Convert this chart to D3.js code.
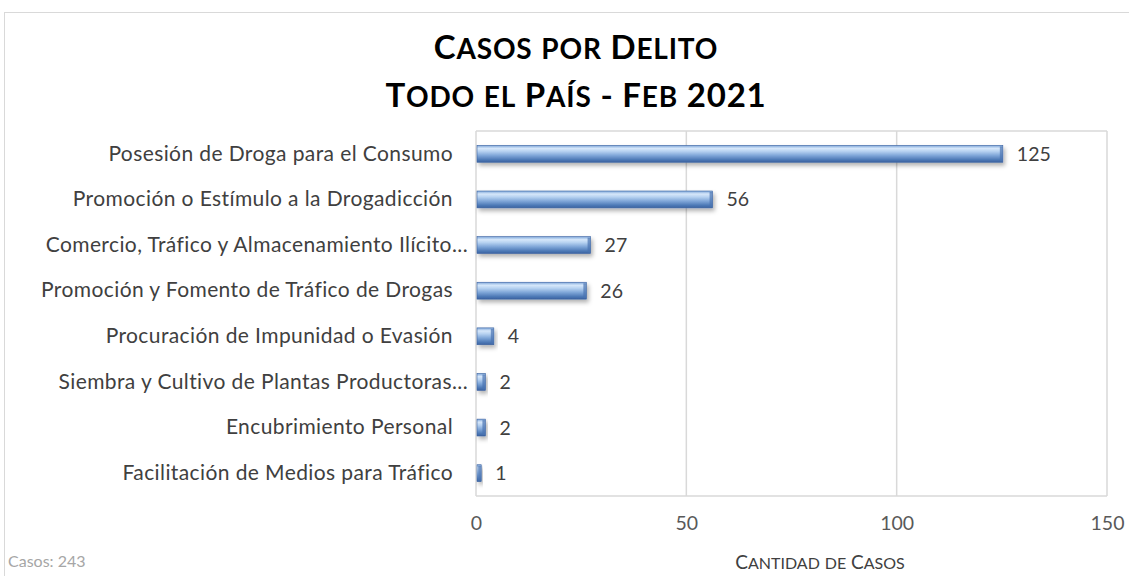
<!DOCTYPE html>
<html><head><meta charset="utf-8">
<script src="https://cdn.jsdelivr.net/npm/d3@7"></script>
<style>body{margin:0;background:#fff}svg{display:block}</style>
</head><body><svg id="c" width="1129" height="576"></svg>
<script>
const categories = ["Posesión de Droga para el Consumo","Promoción o Estímulo a la Drogadicción","Comercio, Tráfico y Almacenamiento Ilícito...","Promoción y Fomento de Tráfico de Drogas","Procuración de Impunidad o Evasión","Siembra y Cultivo de Plantas Productoras...","Encubrimiento Personal","Facilitación de Medios para Tráfico"];
const values = [125,56,27,26,4,2,2,1];
const ticks = [0,50,100,150];
const titleLines = ["Casos por Delito","Todo el País - Feb 2021"];
const xTitle = "Cantidad de Casos";
const note = "Casos: 243";

const svg = d3.select("#c");
const font = "Lato, 'Open Sans', sans-serif";
const m = {l:476, r:1107, t:131, b:496};
const x = d3.scaleLinear().domain([0,150]).range([m.l,m.r]);
const y = d3.scaleBand().domain(categories).range([m.t,m.b]).paddingInner(0.63).paddingOuter(0.315);

// manual small caps: uppercase at big size, lowercase uppercased at small size
function smallCaps(sel, text, big, small) {
  const runs = [];
  for (const ch of text) {
    const low = ch !== ch.toUpperCase();
    if (runs.length && runs[runs.length-1].low === low) runs[runs.length-1].t += ch;
    else runs.push({low, t: ch});
  }
  runs.forEach(r => sel.append("tspan").attr("font-size", r.low ? small : big).text(r.t.toUpperCase()));
}

const defs = svg.append("defs");
const g = defs.append("linearGradient").attr("id","bg").attr("x1",0).attr("y1",0).attr("x2",0).attr("y2",1);
[[0,"#7ea6d9"],[0.18,"#d6e7fa"],[0.35,"#b7d2f1"],[0.6,"#7fa6d8"],[0.85,"#4d79b6"],[1,"#3b62a0"]].forEach(s=>g.append("stop").attr("offset",s[0]).attr("stop-color",s[1]));
const f = defs.append("filter").attr("id","sh").attr("x","-20%").attr("y","-50%").attr("width","140%").attr("height","200%");
f.append("feDropShadow").attr("dx",2).attr("dy",3).attr("stdDeviation",2).attr("flood-color","#000").attr("flood-opacity",0.3);

// outer frame
svg.append("rect").attr("x",4.5).attr("y",12.5).attr("width",1140).attr("height",600).attr("fill","none").attr("stroke","#d9d9d9");

// gridlines
svg.append("g").selectAll("line").data(ticks).join("line")
  .attr("x1",d=>x(d)).attr("x2",d=>x(d)).attr("y1",m.t).attr("y2",m.b)
  .attr("stroke","#d9d9d9").attr("stroke-width",1.5);
svg.append("line").attr("x1",m.l).attr("x2",m.r).attr("y1",m.t).attr("y2",m.t).attr("stroke","#d9d9d9").attr("stroke-width",1.5);
svg.append("line").attr("x1",m.l).attr("x2",m.r).attr("y1",m.b).attr("y2",m.b).attr("stroke","#d9d9d9").attr("stroke-width",1.5);

// x axis ticks
const xa = svg.append("g").attr("transform",`translate(0,${m.b+27})`).call(d3.axisBottom(x).tickValues(ticks).tickSize(0).tickPadding(0));
xa.select(".domain").remove();
xa.selectAll("text").attr("font-family",font).attr("font-size",19.5).attr("fill","#595959").attr("dy","0.35em");

// y axis labels
const ya = svg.append("g").attr("transform",`translate(${m.l-23},0)`).call(d3.axisLeft(y).tickSize(0).tickPadding(0));
ya.select(".domain").remove();
ya.selectAll("text").attr("font-family",font).attr("font-size",21).attr("letter-spacing",0.4).attr("fill","#404040")
  .attr("dx",d=>d.endsWith("...") ? 15 : 0);

// bars
const bh = y.bandwidth();
svg.append("g").selectAll("rect").data(values).join("rect")
  .attr("x",x(0)+1).attr("y",(d,i)=>y(categories[i]))
  .attr("width",d=>x(d)-x(0)).attr("height",bh)
  .attr("fill","url(#bg)").attr("stroke","#3b62a0").attr("stroke-width",0.6)
  .attr("filter","url(#sh)");
svg.append("g").selectAll("rect").data(values).join("rect")
  .attr("x",d=>x(d)-2).attr("y",(d,i)=>y(categories[i])+1)
  .attr("width",d=>Math.min(3,x(d)-x(0))).attr("height",bh-2)
  .attr("fill","#4a74b0").attr("opacity",0.7);

// value labels
svg.append("g").selectAll("text").data(values).join("text")
  .attr("x",d=>x(d)+15).attr("y",(d,i)=>y(categories[i])+bh/2).attr("dy","0.36em")
  .attr("font-family",font).attr("font-size",19.5).attr("fill","#404040").text(d=>d);

// title
svg.append("g").selectAll("text").data(titleLines).join("text")
  .attr("x",576).attr("y",(d,i)=>59+i*48).attr("text-anchor","middle")
  .attr("font-family",font).attr("font-weight","bold").attr("fill","#000").attr("letter-spacing",0.8)
  .each(function(d){ smallCaps(d3.select(this), d, 33, 28); });

// axis title
svg.append("text").attr("x",820).attr("y",569).attr("text-anchor","middle")
  .attr("font-family",font).attr("fill","#404040")
  .call(s=>smallCaps(s, xTitle, 19, 16));
svg.append("text").attr("x",8).attr("y",567).attr("font-family",font).attr("font-size",16)
  .attr("fill","#a6a6a6").text(note);
</script></body></html>
